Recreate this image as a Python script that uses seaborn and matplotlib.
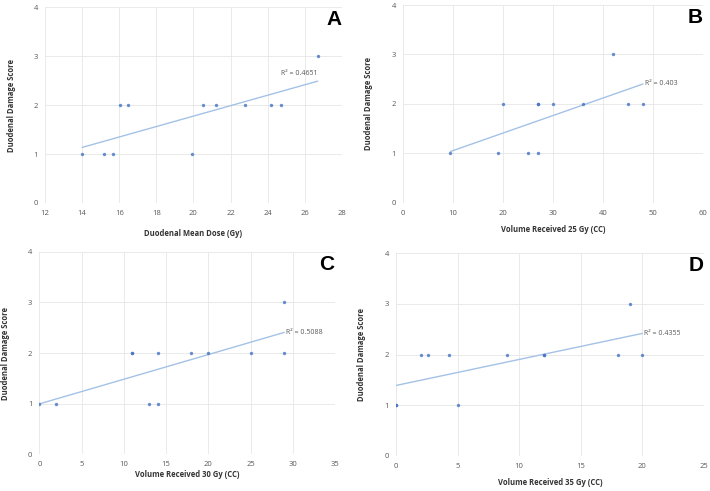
import numpy as np
import pandas as pd
import matplotlib
matplotlib.use('Agg')
import matplotlib.pyplot as plt
import seaborn as sns

# data
dose_a = [14.0, 15.2, 15.65, 16.05, 16.45, 19.9, 20.5, 21.2, 22.8, 24.2, 24.7, 26.7]
score_a = [1, 1, 1, 2, 2, 1, 2, 2, 2, 2, 2, 3]

vol25_b = [9.5, 19, 20, 25, 27, 27, 27, 30, 36, 42, 45, 48]
score_b = [1, 1, 2, 1, 1, 2, 2, 2, 2, 3, 2, 2]

vol30_c = [0, 2, 11, 11, 13, 14, 14, 18, 20, 25, 29, 29]
score_c = [1, 1, 2, 2, 1, 1, 2, 2, 2, 2, 2, 3]

vol35_d = [0, 0, 2, 2.6, 4.3, 5, 9, 12, 12, 18, 19, 20]
score_d = [1, 1, 2, 2, 2, 1, 2, 2, 2, 2, 3, 2]

panels = [
    ('A', dose_a, score_a, 'Duodenal Mean Dose (Gy)', 'R² = 0.4651', (12, 28), np.arange(12, 29, 2)),
    ('B', vol25_b, score_b, 'Volume Received 25 Gy (CC)', 'R² = 0.403', (0, 60), np.arange(0, 61, 10)),
    ('C', vol30_c, score_c, 'Volume Received 30 Gy (CC)', 'R² = 0.5088', (0, 35), np.arange(0, 36, 5)),
    ('D', vol35_d, score_d, 'Volume Received 35 Gy (CC)', 'R² = 0.4355', (0, 25), np.arange(0, 26, 5)),
]

# axes boxes in figure fractions
boxes = [
    [0.0634, 0.5866, 0.418, 0.399],
    [0.5676, 0.5872, 0.4225, 0.4026],
    [0.0554, 0.0747, 0.4165, 0.4127],
    [0.5577, 0.0719, 0.4338, 0.4122],
]
xpads = [9, 6, 1.5, 6]

sns.set_style('white')
plt.rcParams['font.family'] = ['Open Sans', 'DejaVu Sans']

fig = plt.figure(figsize=(7.1, 4.91), dpi=100)

for (letter, x, y, xlab, r2, xlim, xticks), box, xp in zip(panels, boxes, xpads):
    ax = fig.add_axes(box)
    df = pd.DataFrame({'x': x, 'y': y})
    sns.regplot(data=df, x='x', y='y', ax=ax, ci=None, truncate=True,
                scatter_kws={'s': 6, 'color': '#4472c4', 'linewidths': 0, 'zorder': 3},
                line_kws={'color': '#a4c2e6', 'lw': 1.0, 'zorder': 2})
    ax.set_xlim(*xlim)
    ax.set_ylim(0, 4)
    ax.set_xticks(xticks)
    ax.set_yticks(range(5))
    ax.grid(True, color='#e6e6e6', lw=0.6)
    ax.set_axisbelow(True)
    sns.despine(ax=ax, left=True, bottom=True, top=True, right=True)
    ax.tick_params(length=0, labelsize=5.5, labelcolor='#595959', pad=5)
    ax.set_xlabel(xlab, fontsize=5.5, fontweight='bold', color='#333333', labelpad=xp)
    ax.set_ylabel('Duodenal Damage Score', fontsize=5.5, fontweight='bold', color='#333333', labelpad=13)

    # R² label at the end of the trend line
    slope, inter = np.polyfit(x, y, 1)
    xe = max(x)
    if letter == 'A':
        ax.annotate(r2, (xe, slope * xe + inter), xytext=(0, 3), textcoords='offset points',
                    fontsize=5.0, color='#595959', ha='right', va='bottom')
    else:
        ax.annotate(r2, (xe, slope * xe + inter), xytext=(1.5, 0), textcoords='offset points',
                    fontsize=5.0, color='#595959', ha='left', va='center')

    ax.text(0.998, 0.985, letter, transform=ax.transAxes, fontsize=15, fontweight='bold',
            color='black', ha='right', va='top', family=['Liberation Sans', 'DejaVu Sans'])

plt.savefig('out.png', dpi=100)
